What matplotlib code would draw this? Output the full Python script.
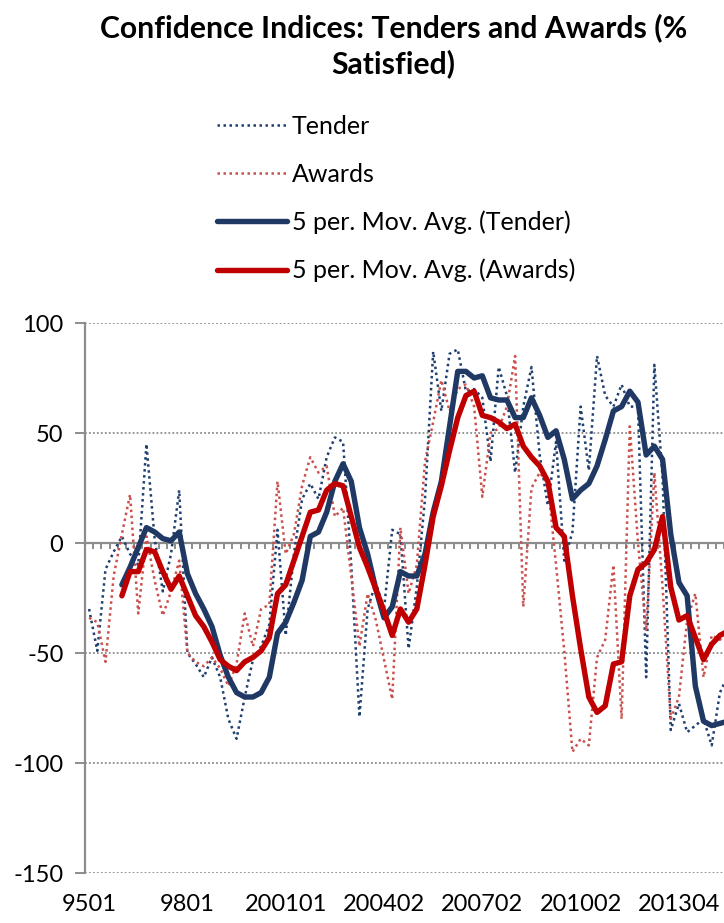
import numpy as np
import matplotlib
matplotlib.use("Agg")
import matplotlib.pyplot as plt
from matplotlib.lines import Line2D

plt.rcParams['font.family'] = ['Lato', 'DejaVu Sans']

nan = np.nan

# Quarterly survey balances (% satisfied), first quarter 1995 onwards
tender = [-30, -49, -12, -4, 3, -5, -10, 45, 2, -22,
          -5, 24, -50, -55, -61, -52, -61, -80, -89, -70,
          -53, -47, -37, 6, -42, -5, 20, 27, 20, 39,
          48, 46, -10, -79, -30, -18, -30, 6, 4, -48,
          -20, 20, 87, 60, 86, 88, 69, 70, 66, 37,
          80, 67, 32, 62, 80, 40, 17, 46, -8, 5,
          62, 33, 85, 67, 62, 72, 62, 62, -61, 81,
          30, -85, -73, -86, -83, -80, -92, -68, -60]

awards = [-34, -36, -54, -15, 4, 22, -32, 3, -17, -33,
          -22, -8, -50, -54, -56, -52, -57, -65, -55, -32,
          -47, -30, -28, 28, -5, 4, 26, 39, 32, 35,
          12, 16, -15, -47, -23, -35, -53, -71, 7, -23,
          -10, 37, 55, 74, 60, 70, 72, 62, 21, 50,
          52, 62, 85, -29, 25, 32, 27, -10, -49, -95,
          -89, -92, -52, -44, -10, -80, 53, 0, -40, 32,
          -20, -80, -70, -35, -23, -61, -42, -44, -40]

tender_ma = [nan, nan, nan, nan, -19, -11, -2, 7, 5, 2,
             1, 5, -14, -23, -30, -38, -51, -61, -68, -70,
             -70, -68, -61, -41, -36, -27, -17, 3, 5, 14,
             28, 36, 28, 7, -5, -21, -34, -29, -13, -15,
             -15, -5, 14, 28, 53, 78, 78, 75, 76, 66,
             65, 65, 57, 57, 66, 58, 48, 51, 38, 20,
             24, 27, 35, 47, 60, 62, 69, 64, 40, 44,
             38, 4, -18, -24, -65, -81, -83, -82, -81]

awards_ma = [nan, nan, nan, nan, -24, -13, -13, -3, -4, -13,
             -21, -15, -24, -33, -38, -45, -53, -56, -58, -54,
             -52, -49, -43, -23, -19, -8, 3, 14, 15, 24,
             27, 26, 12, -2, -11, -21, -31, -42, -30, -36,
             -30, -10, 12, 26, 42, 57, 67, 69, 58, 57,
             55, 52, 54, 44, 39, 35, 28, 7, 3, -24,
             -48, -70, -77, -74, -55, -54, -24, -12, -9, -3,
             12, -20, -35, -33, -43, -53, -46, -42, -40]

tick_pos = [0, 12, 24, 36, 48, 60, 72]
tick_labels = ['9501', '9801', '200101', '200402', '200702', '201002', '201304']
y_ticks = [-150, -100, -50, 0, 50, 100]

navy = '#1F3864'
navy_dot = '#1F3F6E'
red = '#C00000'
red_dot = '#C9504D'
axis_grey = '#8C8C8C'

W, H = 724, 923
fig = plt.figure(figsize=(W / 100, H / 100), dpi=100)
ax = fig.add_axes([85 / W, 50 / H, 639 / W, 550 / H])

x = np.arange(len(tender))
dot = (0, (1, 1.4))
ax.plot(x, tender, color=navy_dot, lw=1.8, ls=dot, zorder=3)
ax.plot(x, awards, color=red_dot, lw=1.8, ls=dot, zorder=3)
ax.plot(x, tender_ma, color=navy, lw=3.9, solid_joinstyle='round',
        solid_capstyle='round', zorder=4)
ax.plot(x, awards_ma, color=red, lw=3.9, solid_joinstyle='round',
        solid_capstyle='round', zorder=5)

ax.set_xlim(-0.5, 77.05)
ax.set_ylim(-150, 100)

# horizontal dotted gridlines
ax.set_yticks(y_ticks)
ax.set_yticklabels([str(v) for v in y_ticks])
ax.grid(axis='y', color=axis_grey, ls=(0, (1, 1.2)), lw=1.3, zorder=0)
ax.tick_params(axis='y', direction='out', length=7.5, width=1.4,
               color=axis_grey, labelsize=17, pad=8, labelcolor='black')

# category axis sits on the zero line with marks between categories
ax.spines['bottom'].set_position(('data', 0))
ax.spines['bottom'].set_color(axis_grey)
ax.spines['bottom'].set_linewidth(1.6)
ax.spines['bottom'].set_zorder(2)
ax.set_xticks(np.arange(-0.5, 78, 1.0))
ax.tick_params(axis='x', direction='out', length=4.5, width=1.4,
               color=axis_grey, labelbottom=False)
ax.spines['left'].set_color(axis_grey)
ax.spines['left'].set_linewidth(1.6)
ax.spines['top'].set_visible(False)
ax.spines['right'].set_visible(False)

# category labels placed low, under the plot area
sec = ax.secondary_xaxis(0.0)
sec.set_xticks(tick_pos)
sec.set_xticklabels(tick_labels)
sec.tick_params(length=0, pad=15, labelsize=17)
sec.spines['bottom'].set_visible(False)

fig.text(393.5 / W, 1 - 13 / H, 'Confidence Indices: Tenders and Awards (%\nSatisfied)',
         ha='center', va='top', fontsize=21.7, fontweight='bold',
         linespacing=1.3, multialignment='center')

handles = [
    Line2D([], [], color=navy_dot, lw=1.8, ls=dot),
    Line2D([], [], color=red_dot, lw=1.8, ls=dot),
    Line2D([], [], color=navy, lw=3.9, solid_capstyle='round'),
    Line2D([], [], color=red, lw=3.9, solid_capstyle='round'),
]
labels = ['Tender', 'Awards', '5 per. Mov. Avg. (Tender)', '5 per. Mov. Avg. (Awards)']
fig.legend(handles, labels, loc='upper left', bbox_to_anchor=(217 / W, 1 - 115 / H),
           frameon=False, fontsize=18, handlelength=2.8, handletextpad=0.2,
           labelspacing=0.99, borderpad=0, borderaxespad=0)

fig.savefig('out.png', dpi=100)
